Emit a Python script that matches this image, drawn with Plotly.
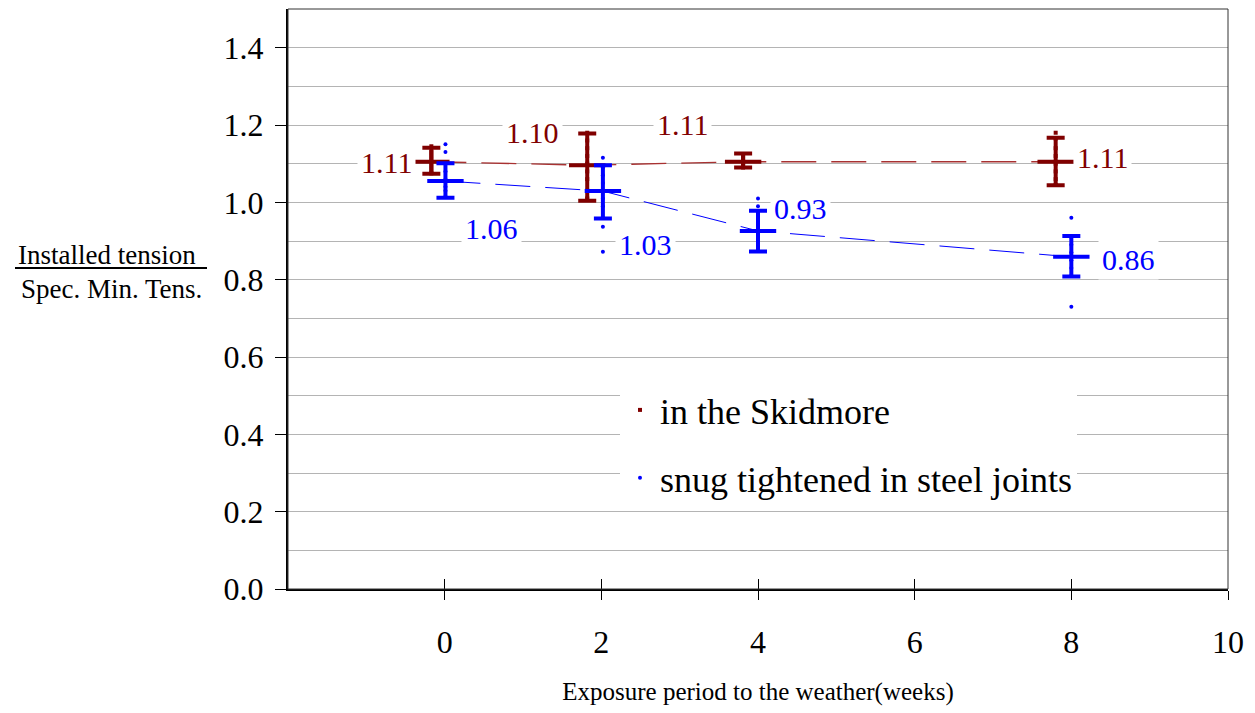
import plotly.graph_objects as go

# ---------------- data ----------------
weeks = [0, 2, 4, 8]
red_x = [-0.17, 1.82, 3.81, 7.8]       # Skidmore series plotted slightly left
blue_x = [0.01, 2.02, 4.0, 8.0]

red_mean = [1.105, 1.096, 1.105, 1.105]
red_hi = [1.141, 1.178, 1.126, 1.167]
red_lo = [1.074, 1.004, 1.090, 1.044]
red_labels = ["1.11", "1.10", "1.11", "1.11"]

blue_mean = [1.055, 1.029, 0.926, 0.859]
blue_hi = [1.101, 1.096, 0.978, 0.913]
blue_lo = [1.012, 0.958, 0.873, 0.808]
blue_labels = ["1.06", "1.03", "0.93", "0.86"]

red_points = [
    [1.145, 1.13, 1.12, 1.11, 1.10, 1.09, 1.08, 1.075],
    [1.18, 1.16, 1.14, 1.12, 1.10, 1.08, 1.06, 1.03, 1.01],
    [1.125, 1.115, 1.105, 1.10, 1.09],
    [1.18, 1.165, 1.14, 1.12, 1.10, 1.08, 1.06, 1.045],
]
blue_points = [
    [1.15, 1.13, 1.10, 1.08, 1.06, 1.04, 1.03, 1.015],
    [1.115, 1.09, 1.07, 1.05, 1.03, 1.01, 0.99, 0.96, 0.937, 0.872],
    [1.01, 0.99, 0.975, 0.95, 0.93, 0.91, 0.89, 0.875],
    [0.96, 0.91, 0.89, 0.87, 0.85, 0.83, 0.81, 0.73],
]

x_ticks = [0, 2, 4, 6, 8, 10]
y_ticks = [0.0, 0.2, 0.4, 0.6, 0.8, 1.0, 1.2, 1.4]
y_tick_text = ["0.0", "0.2", "0.4", "0.6", "0.8", "1.0", "1.2", "1.4"]

# ---------------- styles ----------------
RED = "#800000"
RED_LINE = "#a83232"
BLUE = "#0000ff"
FONT = "Liberation Serif"
W, H = 1255, 713
L, R, T, B = 288, 27, 9, 124
PW, PH = W - L - R, H - T - B

red_label_off = [(-45, 1), (-55, -33), (-61, -37), (47, -4)]
blue_label_off = [(46, 47), (43, 53), (42, -22), (57, 3)]


def flat(xs, groups):
    ox, oy = [], []
    for x, g in zip(xs, groups):
        for v in g:
            ox.append(x)
            oy.append(v)
    return ox, oy


def px_x(p):
    return (p - L) / PW


def px_y(p):
    return (H - B - p) / PH


fig = go.Figure()

# dashed connecting lines
fig.add_trace(go.Scatter(x=red_x, y=red_mean, mode="lines", showlegend=False,
                         line=dict(color=RED_LINE, width=1.3, dash="35px,15px"),
                         hoverinfo="skip"))
fig.add_trace(go.Scatter(x=blue_x, y=blue_mean, mode="lines", showlegend=False,
                         line=dict(color=BLUE, width=1, dash="35px,15px"),
                         hoverinfo="skip"))

# individual points (legend entries)
rx, ry = flat(red_x, red_points)
bx, by = flat(blue_x, blue_points)
fig.add_trace(go.Scatter(x=rx, y=ry, mode="markers", name="in the Skidmore",
                         legendgroup="a",
                         marker=dict(color=RED, size=4, symbol="square")))
fig.add_trace(go.Scatter(x=bx, y=by, mode="markers", name="snug tightened in steel joints",
                         legendgroup="b",
                         marker=dict(color=BLUE, size=4, symbol="circle")))

# means with error bars
for xs, m, hi, lo, col in [(red_x, red_mean, red_hi, red_lo, RED),
                           (blue_x, blue_mean, blue_hi, blue_lo, BLUE)]:
    fig.add_trace(go.Scatter(
        x=xs, y=m, mode="markers", showlegend=False,
        marker=dict(symbol="line-ew", size=26, color=col,
                    line=dict(color=col, width=4)),
        error_y=dict(type="data", symmetric=False,
                     array=[h - v for h, v in zip(hi, m)],
                     arrayminus=[v - l for v, l in zip(m, lo)],
                     color=col, thickness=4, width=9)))

# value labels
ann = []
for xs, m, labs, offs, col in [(red_x, red_mean, red_labels, red_label_off, RED),
                               (blue_x, blue_mean, blue_labels, blue_label_off, BLUE)]:
    for x, y, t, (dx, dy) in zip(xs, m, labs, offs):
        ann.append(dict(x=x, y=y, xref="x", yref="y", text=t, showarrow=False,
                        xshift=dx, yshift=-dy, xanchor="center", yanchor="middle",
                        font=dict(family=FONT, size=30, color=col),
                        bgcolor="white", borderpad=3))

# y-axis title as fraction
ann.append(dict(x=px_x(107), y=px_y(255), xref="paper", yref="paper",
                text="Installed tension", showarrow=False, xanchor="center",
                yanchor="middle", font=dict(family=FONT, size=27, color="black")))
ann.append(dict(x=px_x(111), y=px_y(289), xref="paper", yref="paper",
                text="Spec. Min. Tens.", showarrow=False, xanchor="center",
                yanchor="middle", font=dict(family=FONT, size=27, color="black")))

shapes = [
    dict(type="line", xref="paper", yref="paper", x0=px_x(15), x1=px_x(207),
         y0=px_y(268), y1=px_y(268), line=dict(color="black", width=2)),
    dict(type="rect", xref="paper", yref="paper", x0=0, x1=1, y0=0, y1=1,
         line=dict(color="#333333", width=1), layer="above"),
]

fig.update_layout(
    width=W, height=H,
    margin=dict(l=L, r=R, t=T, b=B, autoexpand=False),
    paper_bgcolor="white", plot_bgcolor="white",
    font=dict(family=FONT, color="black"),
    annotations=ann, shapes=shapes,
    legend=dict(x=px_x(620), y=px_y(380), xanchor="left", yanchor="top",
                bgcolor="white", borderwidth=0,
                font=dict(family=FONT, size=36, color="black"),
                tracegroupgap=18, itemwidth=30),
    xaxis=dict(range=[-2, 10], tickvals=x_ticks, ticks="outside", ticklen=9,
               tickwidth=1, tickcolor="black", showgrid=False, zeroline=False,
               showline=True, linecolor="black", linewidth=2, automargin=False,
               tickfont=dict(family=FONT, size=32), ticklabelstandoff=15,
               title=dict(text="Exposure period to the weather(weeks)",
                          font=dict(family=FONT, size=25), standoff=23)),
    xaxis2=dict(range=[-2, 10], tickvals=x_ticks, ticks="inside", ticklen=10,
                tickwidth=1, tickcolor="black", showticklabels=False,
                showgrid=False, zeroline=False, overlaying="x", anchor="y",
                side="bottom", automargin=False),
    yaxis=dict(range=[0, 1.5], tickvals=y_ticks, ticktext=y_tick_text,
               ticks="outside", ticklen=11, tickwidth=1, tickcolor="black",
               showgrid=True, gridcolor="#b4b4b4", gridwidth=1, zeroline=False,
               showline=True, linecolor="black", linewidth=2, automargin=False,
               tickfont=dict(family=FONT, size=32), ticklabelstandoff=5,
               minor=dict(dtick=0.1, tick0=0, showgrid=True, gridcolor="#b4b4b4",
                          gridwidth=1, ticks="")),
)
# dummy trace to activate xaxis2 ticks
fig.add_trace(go.Scatter(x=[None], y=[None], xaxis="x2", showlegend=False,
                         hoverinfo="skip"))

fig.write_html("out.html")
